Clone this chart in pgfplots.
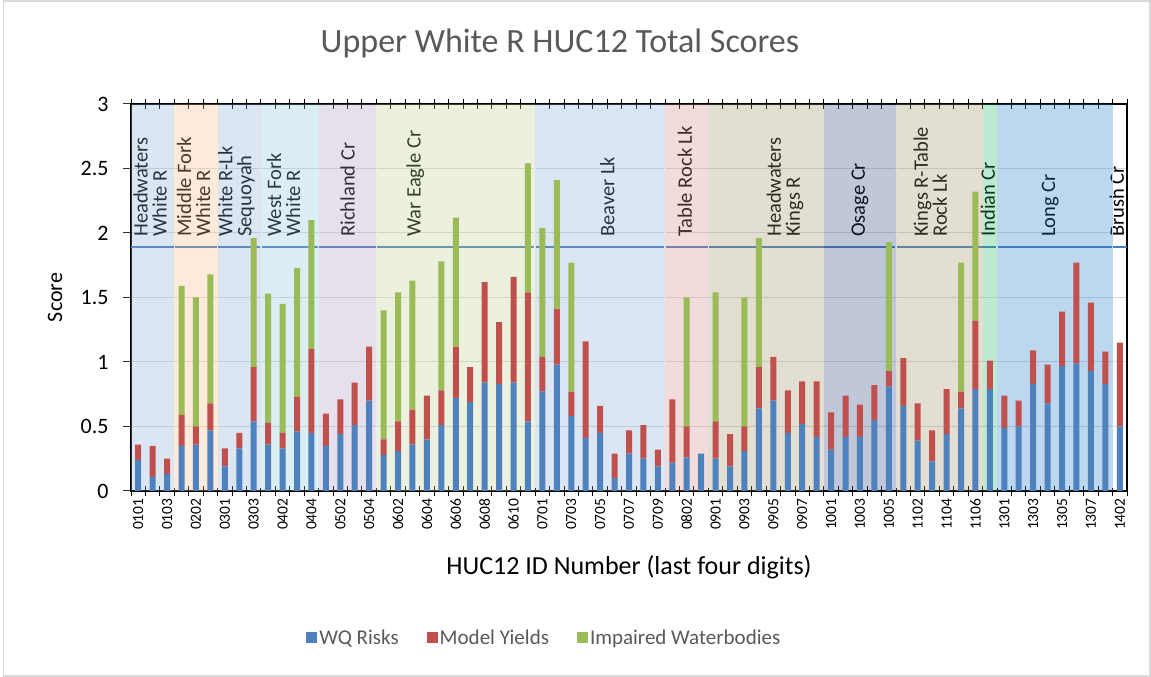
\documentclass[border=0pt]{standalone}
\usepackage{fontspec}
\setmainfont{Carlito}
\usepackage{pgfplots}
\usepackage{pgfplotstable}
\pgfplotsset{compat=1.18}
\definecolor{cBlue}{HTML}{4F81BD}
\definecolor{cRed}{HTML}{C0504D}
\definecolor{cGreen}{HTML}{9BBB59}
\definecolor{tgray}{HTML}{595959}
\definecolor{bBlue}{HTML}{8AACD4}
\definecolor{bPeach}{HTML}{F8B984}
\definecolor{bCyan}{HTML}{87C6DA}
\definecolor{bLav}{HTML}{AC98C0}
\definecolor{bGreen}{HTML}{BCD091}
\definecolor{bPink}{HTML}{D48A87}
\definecolor{bTan}{HTML}{9E9469}
\definecolor{bSlate}{HTML}{2D447D}
\definecolor{bMint}{HTML}{26B962}
\definecolor{bSky}{HTML}{237AC6}
\definecolor{thr}{HTML}{4A7EBB}
\tikzset{bl/.style={rotate=90, anchor=west, align=left, inner sep=0pt, font=\fontsize{20.5}{19}\selectfont},
  band/.style={fill opacity=0.3}}

\pgfplotstableread{
x b r g
0 0.24 0.12 0
1 0.11 0.24 0
2 0.13 0.12 0
3 0.35 0.24 1
4 0.36 0.14 1
5 0.47 0.21 1
6 0.19 0.14 0
7 0.33 0.12 0
8 0.54 0.42 1
9 0.36 0.17 1
10 0.33 0.12 1
11 0.46 0.27 1
12 0.45 0.65 1
13 0.35 0.25 0
14 0.44 0.27 0
15 0.51 0.33 0
16 0.70 0.42 0
17 0.28 0.12 1
18 0.31 0.23 1
19 0.36 0.27 1
20 0.40 0.34 0
21 0.51 0.27 1
22 0.72 0.40 1
23 0.69 0.27 0
24 0.84 0.78 0
25 0.83 0.48 0
26 0.84 0.82 0
27 0.54 1.00 1
28 0.77 0.27 1
29 0.98 0.43 1
30 0.58 0.19 1
31 0.41 0.75 0
32 0.45 0.21 0
33 0.10 0.19 0
34 0.29 0.18 0
35 0.25 0.26 0
36 0.19 0.13 0
37 0.22 0.49 0
38 0.26 0.24 1
39 0.29 0.00 0
40 0.25 0.29 1
41 0.19 0.25 0
42 0.31 0.19 1
43 0.64 0.32 1
44 0.70 0.34 0
45 0.45 0.33 0
46 0.52 0.33 0
47 0.42 0.43 0
48 0.32 0.29 0
49 0.42 0.32 0
50 0.42 0.25 0
51 0.55 0.27 0
52 0.81 0.12 1
53 0.66 0.37 0
54 0.39 0.29 0
55 0.23 0.24 0
56 0.44 0.35 0
57 0.64 0.13 1
58 0.79 0.53 1
59 0.79 0.22 0
60 0.49 0.25 0
61 0.50 0.20 0
62 0.83 0.26 0
63 0.68 0.30 0
64 0.97 0.42 0
65 0.99 0.78 0
66 0.93 0.53 0
67 0.83 0.25 0
68 0.50 0.65 0
}\datatable

\begin{document}
\begin{tikzpicture}[x=1pt,y=1pt]
\path[use as bounding box] (0,0) rectangle (1151,677);
\draw[color=black!15, line width=1.5pt] (3.7,1) rectangle (1150.2,676.2);
\begin{axis}[
  at={(131pt,186pt)}, anchor=south west,
  width=996pt, height=387pt, scale only axis,
  ybar stacked, bar width=6pt,
  xmin=-0.5, xmax=68.5, ymin=0, ymax=3,
  enlargelimits=false,
  xtick={0,2,...,68},
  xticklabels={0101,0103,0202,0301,0303,0402,0404,0502,0504,0602,0604,0606,0608,0610,0701,0703,0705,0707,0709,0802,0901,0903,0905,0907,1001,1003,1005,1102,1104,1106,1301,1303,1305,1307,1402},
  minor xtick={-0.5,0.5,...,68.5},
  every major x tick/.append style={draw=none},
  every minor x tick/.append style={black, line width=1pt},
  minor tick length=10pt,
  xtick align=center,
  ytick={0,0.5,...,3},
  ytick align=outside, ytick pos=left,
  major tick length=8pt,
  every major y tick/.append style={black!80, line width=1pt},
  ymajorgrids, grid style={color=black!15, line width=1pt},
  axis line style={black, line width=1.3pt},
  /pgf/number format/assume math mode=true,
  yticklabel style={font=\fontsize{22}{26}\selectfont, black, xshift=-11pt},
  xticklabel style={rotate=90, anchor=east, font=\fontsize{15.5}{18}\selectfont, black},
  title={Upper White R HUC12 Total Scores},
  title style={at={(axis description cs:0.4307,1.1163)}, anchor=base, font=\fontsize{34}{40}\selectfont, text=tgray},
  xlabel={HUC12 ID Number (last four digits)},
  xlabel style={at={(axis description cs:0.5,-0.217)}, anchor=base, font=\fontsize{26}{30}\selectfont},
  ylabel={Score},
  ylabel style={at={(axis description cs:-0.0763,0.5)}, anchor=center, font=\fontsize{22}{26}\selectfont},
  legend columns=3,
  legend style={draw=none, fill=none, at={(axis description cs:0.415,-0.379)}, anchor=center,
    font=\fontsize{21}{24}\selectfont, text=tgray,
    /tikz/every even column/.append style={column sep=26pt}},
  legend image code/.code={\fill[#1] (0pt,-5.5pt) rectangle (11pt,5.5pt);},
]
\addplot[fill=cBlue, draw=none] table[x=x, y=b]{\datatable};
\addplot[fill=cRed, draw=none] table[x=x, y=r]{\datatable};
\addplot[fill=cGreen, draw=none] table[x=x, y=g]{\datatable};
\legend{WQ Risks, Model Yields, Impaired Waterbodies}

\fill[band, bBlue]  (axis cs:-0.5,0) rectangle (axis cs:2.5,3);
\fill[band, bPeach] (axis cs:2.5,0) rectangle (axis cs:5.5,3);
\fill[band, bBlue]  (axis cs:5.5,0) rectangle (axis cs:8.5,3);
\fill[band, bCyan]  (axis cs:8.5,0) rectangle (axis cs:12.5,3);
\fill[band, bLav]   (axis cs:12.5,0) rectangle (axis cs:16.5,3);
\fill[band, bGreen] (axis cs:16.5,0) rectangle (axis cs:27.5,3);
\fill[band, bBlue]  (axis cs:27.5,0) rectangle (axis cs:36.5,3);
\fill[band, bPink]  (axis cs:36.5,0) rectangle (axis cs:39.5,3);
\fill[band, bTan]   (axis cs:39.5,0) rectangle (axis cs:47.5,3);
\fill[band, bSlate] (axis cs:47.5,0) rectangle (axis cs:52.5,3);
\fill[band, bTan]   (axis cs:52.5,0) rectangle (axis cs:58.5,3);
\fill[band, bMint]  (axis cs:58.5,0) rectangle (axis cs:59.5,3);
\fill[band, bSky]   (axis cs:59.5,0) rectangle (axis cs:67.5,3);

\draw[white, line width=1.5pt] (axis cs:2.5,0.02) -- (axis cs:2.5,2.99);
\draw[white, line width=1.5pt] (axis cs:5.5,0.02) -- (axis cs:5.5,2.99);
\draw[white, line width=1.5pt] (axis cs:8.5,0.02) -- (axis cs:8.5,2.99);
\draw[white, line width=1.5pt] (axis cs:12.5,0.02) -- (axis cs:12.5,2.99);
\draw[white, line width=1.5pt] (axis cs:16.5,0.02) -- (axis cs:16.5,2.99);
\draw[white, line width=1.5pt] (axis cs:27.5,0.02) -- (axis cs:27.5,2.99);
\draw[white, line width=1.5pt] (axis cs:36.5,0.02) -- (axis cs:36.5,2.99);
\draw[white, line width=1.5pt] (axis cs:39.5,0.02) -- (axis cs:39.5,2.99);
\draw[white, line width=1.5pt] (axis cs:52.5,0.02) -- (axis cs:52.5,2.99);
\draw[white, line width=1.5pt] (axis cs:59.5,0.02) -- (axis cs:59.5,2.99);
\draw[white, line width=1.5pt] (axis cs:67.5,0.02) -- (axis cs:67.5,2.99);
\draw[thr, line width=1.5pt] (axis cs:-0.5,1.89) -- (axis cs:68.5,1.89);

\node[bl] at (axis cs:0.82,1.97) {Headwaters\\White R};
\node[bl] at (axis cs:3.83,1.97) {Middle Fork\\White R};
\node[bl] at (axis cs:6.81,1.97) {White R-Lk\\Sequoyah};
\node[bl] at (axis cs:10.07,1.97) {West Fork\\White R};
\node[bl] at (axis cs:14.5,1.97) {Richland Cr};
\node[bl] at (axis cs:19.2,1.97) {War Eagle Cr};
\node[bl] at (axis cs:32.5,1.97) {Beaver Lk};
\node[bl] at (axis cs:37.86,1.97) {Table Rock Lk};
\node[bl] at (axis cs:44.8,1.97) {Headwaters\\Kings R};
\node[bl] at (axis cs:50.0,1.97) {Osage Cr};
\node[bl] at (axis cs:54.87,1.97) {Kings R-Table\\Rock Lk};
\node[bl] at (axis cs:58.86,1.97) {Indian Cr};
\node[bl] at (axis cs:63.19,1.97) {Long Cr};
\node[bl] at (axis cs:67.8,1.97) {Brush Cr};
\end{axis}
\end{tikzpicture}
\end{document}
